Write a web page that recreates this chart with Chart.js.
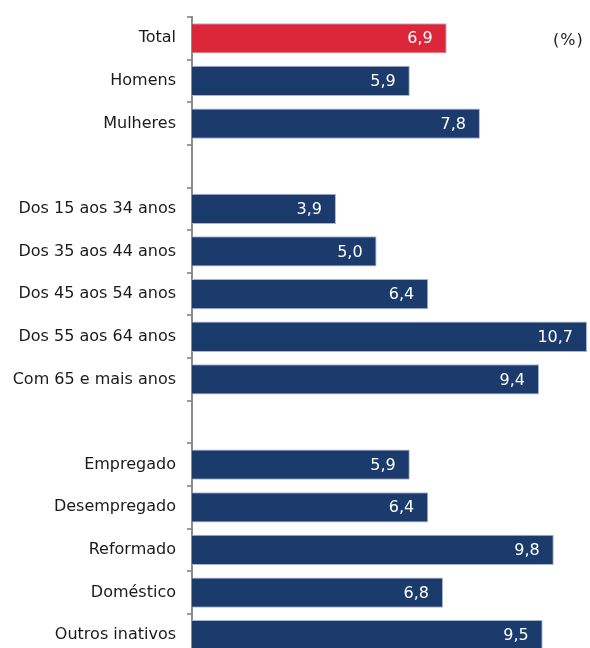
<!DOCTYPE html>
<html><head><meta charset="utf-8">
<script src="https://cdn.jsdelivr.net/npm/chart.js@4.4.1/dist/chart.umd.min.js"></script>
<style>
html,body{margin:0;padding:0;background:#fff;overflow:hidden;width:590px;height:648px;}
#wrap{width:590px;height:648px;position:relative;overflow:hidden;}
#c{position:absolute;left:0;top:0;}
</style></head>
<body>
<div id="wrap"><canvas id="c" width="590" height="660" style="width:590px;height:660px"></canvas></div>
<script>
const categories = ["Total","Homens","Mulheres","","Dos 15 aos 34 anos","Dos 35 aos 44 anos","Dos 45 aos 54 anos","Dos 55 aos 64 anos","Com 65 e mais anos","","Empregado","Desempregado","Reformado","Doméstico","Outros inativos"];
const values = [6.9,5.9,7.8,null,3.9,5.0,6.4,10.7,9.4,null,5.9,6.4,9.8,6.8,9.5];
const valueLabels = ["6,9","5,9","7,8","","3,9","5,0","6,4","10,7","9,4","","5,9","6,4","9,8","6,8","9,5"];
const unitLabel = "(%)";

const RED = "#DC2639", NAVY = "#1B3B6C";
const barColors = values.map((v,i)=> i===0 ? RED : NAVY);
const FONT = "'DejaVu Sans', Verdana, sans-serif";

const valuePlugin = {
  id:'vals',
  afterDatasetsDraw(chart){
    const ctx = chart.ctx;
    const meta = chart.getDatasetMeta(0);
    ctx.save();
    ctx.font = "16px " + FONT;
    ctx.fillStyle = "#fff";
    ctx.textAlign = "right";
    ctx.textBaseline = "middle";
    meta.data.forEach((bar,i)=>{
      if(values[i]==null) return;
      ctx.fillText(valueLabels[i], bar.x - 14, bar.y + 1);
    });
    ctx.fillStyle = "#222";
    ctx.textAlign = "left";
    try { ctx.letterSpacing = "1px"; } catch(e) {}
    ctx.fillText(unitLabel, 553, 41);
    ctx.restore();
  }
};

new Chart(document.getElementById('c'), {
  type:'bar',
  data:{
    labels:categories,
    datasets:[{
      data:values,
      backgroundColor:barColors,
      borderColor:"#A8B6CC",
      borderWidth:1,
      borderSkipped:'left',
      barPercentage:0.71,
      categoryPercentage:1.0
    }]
  },
  options:{
    indexAxis:'y',
    responsive:false,
    animation:false,
    events:[],
    devicePixelRatio:1,
    layout:{padding:{top:17,bottom:3.5,left:0,right:3}},
    plugins:{legend:{display:false},tooltip:{enabled:false}},
    scales:{
      x:{display:false,min:0,max:10.7},
      y:{
        afterFit(s){ s.width = 192; s.paddingTop = 0; s.paddingBottom = 0; },
        grid:{offset:true,drawOnChartArea:false,drawTicks:true,tickLength:5,color:"#9A9A9A",lineWidth:2},
        border:{display:true,color:"#8C8C8C",width:2},
        ticks:{color:"#1a1a1a",padding:11,font:{family:FONT,size:16},autoSkip:false}
      }
    }
  },
  plugins:[valuePlugin]
});
</script>
</body></html>
